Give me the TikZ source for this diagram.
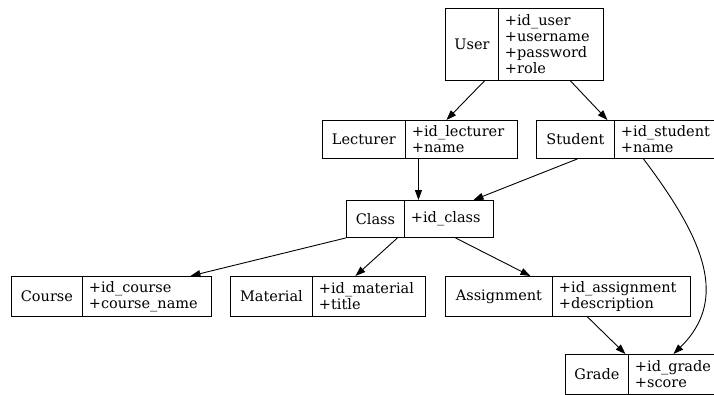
\documentclass[tikz,border=0pt]{standalone}
\usepackage{fontspec}
\setmainfont{DejaVu Serif}
\usetikzlibrary{arrows.meta}
\tikzset{
  cell/.style={draw=black, line width=0.9pt, inner sep=0pt, anchor=north west,
    font=\fontsize{14.5}{16}\selectfont},
  namecell/.style={cell, align=center},
  fieldcell/.style={cell, align=left, inner xsep=6.5pt},
  link/.style={draw=black, line width=0.9pt, -{Triangle[length=10pt,width=7pt]}},
}
\begin{document}
\begin{tikzpicture}[x=1pt,y=-1pt]
\path[use as bounding box] (0,0) rectangle (714,394);
\clip (0,0) rectangle (714,394);
% User
\node[namecell, minimum width=53pt, minimum height=72pt] (userN) at (445,8) {User};
\node[fieldcell, text width=92pt, minimum height=72pt] (userF) at (498,8) {+id\_user\\+username\\+password\\+role};
% Lecturer
\node[namecell, minimum width=83pt, minimum height=38pt] (lecN) at (322,120) {Lecturer};
\node[fieldcell, text width=99pt, minimum height=38pt] (lecF) at (405,120) {+id\_lecturer\\+name};
% Student
\node[namecell, minimum width=78pt, minimum height=38pt] (stuN) at (536,120) {Student};
\node[fieldcell, text width=97pt, minimum height=38pt] (stuF) at (614,120) {+id\_student\\+name};
% Class
\node[namecell, minimum width=58pt, minimum height=37pt] (clsN) at (346,200) {Class};
\node[fieldcell, text width=76pt, minimum height=37pt] (clsF) at (404,200) {+id\_class};
% Course
\node[namecell, minimum width=71pt, minimum height=40pt] (crsN) at (11,276) {Course};
\node[fieldcell, text width=116pt, minimum height=40pt] (crsF) at (82,276) {+id\_course\\+course\_name};
% Material
\node[namecell, minimum width=82pt, minimum height=40pt] (matN) at (230,276) {Material};
\node[fieldcell, text width=100pt, minimum height=40pt] (matF) at (312,276) {+id\_material\\+title};
% Assignment
\node[namecell, minimum width=107pt, minimum height=40pt] (asgN) at (445,276) {Assignment};
\node[fieldcell, text width=125pt, minimum height=40pt] (asgF) at (552,276) {+id\_assignment\\+description};
% Grade
\node[namecell, minimum width=63pt, minimum height=40pt] (grdN) at (565,354) {Grade};
\node[fieldcell, text width=87pt, minimum height=40pt] (grdF) at (628,354) {+id\_grade\\+score};
% connectors
\draw[link] ([xshift=12.5pt]userN.south) -- ([xshift=-15pt]lecF.north);
\draw[link] ([xshift=19.5pt]userF.south) -- ([xshift=32pt]stuN.north);
\draw[link] ([xshift=-43pt]lecF.south) -- ([xshift=-30.5pt]clsF.north);
\draw[link] ([xshift=2pt]stuN.south) -- ([xshift=24.5pt]clsF.north);
\draw[link] ([xshift=-26pt]stuF.south) .. controls +(62,82) and +(55,-54) .. ([xshift=-5pt]grdF.north);
\draw[link] (clsN.south west) -- ([xshift=43.5pt]crsF.north);
\draw[link] ([xshift=22pt]clsN.south) -- ([xshift=-13.5pt]matF.north);
\draw[link] ([xshift=6.5pt]clsF.south) -- ([xshift=31.5pt]asgN.north);
\draw[link] ([xshift=-34pt]asgF.south) -- ([xshift=28.5pt]grdN.north);
\end{tikzpicture}
\end{document}
